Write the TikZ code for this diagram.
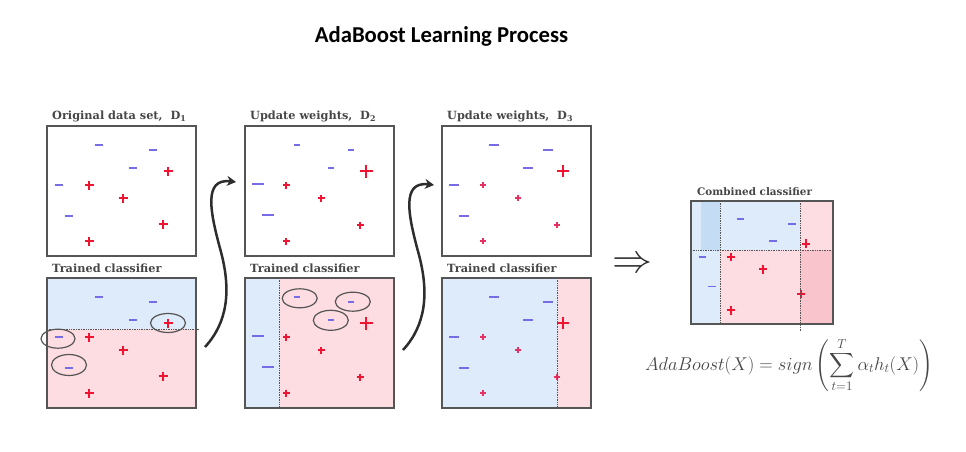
\RequirePackage{fix-cm}
\documentclass[tikz,border=0pt]{standalone}
\usepackage{fontspec}
\usepackage{amsmath}
\newfontfamily\headfont{Carlito}
\newfontfamily\panelfont{DejaVu Serif}
\usetikzlibrary{arrows.meta}

\definecolor{boxgray}{RGB}{85,85,85}
\definecolor{titlegray}{RGB}{70,70,70}
\definecolor{minusblue}{RGB}{118,108,230}
\definecolor{plusred}{RGB}{240,20,50}
\definecolor{pluspink}{RGB}{228,50,100}
\definecolor{areablue}{RGB}{221,235,250}
\definecolor{areapink}{RGB}{253,221,226}
\definecolor{deepblue}{RGB}{197,220,245}
\definecolor{deeppink}{RGB}{249,196,203}
\definecolor{arrowgray}{RGB}{45,45,45}

\begin{document}
\begin{tikzpicture}[x=1pt, y=-1pt,
    panel/.style={draw=boxgray, line width=1.2pt, minimum width=149pt, minimum height=130pt, inner sep=0pt, outer sep=0pt},
    paneltitle/.style={anchor=west, inner sep=0pt, text=titlegray, font=\panelfont\bfseries\fontsize{11.3}{13}\selectfont},
    neg/.style={draw=minusblue, line width=#1}, neg/.default=1.4pt,
    pos/.style={draw=plusred, line width=#1}, pos/.default=1.6pt,
    miss/.style={draw=boxgray, line width=1.2pt},
    split/.style={draw=boxgray, densely dotted, line width=0.7pt},
    flow/.style={draw=arrowgray, line width=2.5pt, -{Stealth[length=9pt, width=10pt]}}]
    \useasboundingbox (0,0) rectangle (966,452);

    \node[font=\headfont\bfseries\fontsize{22.7}{27}\selectfont](title) at (441.5,36) {AdaBoost Learning Process};

    % classifier areas
    \fill[areablue] (47,278) rectangle (196,329);
    \fill[areapink] (47,329) rectangle (196,408);
    \fill[areablue] (245,278) rectangle (279,408);
    \fill[areapink] (279,278) rectangle (394,408);
    \fill[areablue] (442,278) rectangle (557.5,408);
    \fill[areapink] (557.5,278) rectangle (591,408);

    \fill[areablue] (691,201) rectangle (720,324);
    \fill[deepblue] (701,201) rectangle (720,250);
    \fill[areablue] (720,201) rectangle (800,250);
    \fill[areapink] (720,250) rectangle (800,324);
    \fill[areapink] (800,201) rectangle (833,250);
    \fill[deeppink] (800,250) rectangle (833,324);

    % data points, D1
    \foreach \oy in {126,278}{
      \begin{scope}[shift={(47,\oy)}]
        \foreach \x/\y in {52/19,106/24,86/42,12/59,22/90}
          \draw[neg] (\x-4.3,\y) -- (\x+4.3,\y);
        \foreach \x/\y in {121/45,42/59,76/72,116/98,42/115}
          \draw[pos] (\x-4.5,\y) -- (\x+4.5,\y) (\x,\y-4.5) -- (\x,\y+4.5);
      \end{scope}
    }
    % data points, D2
    \foreach \oy in {126,278}{
      \begin{scope}[shift={(245,\oy)}]
        \foreach \x/\y in {52/19,106/24,86/42}
          \draw[neg=1.1pt] (\x-3.3,\y) -- (\x+3.3,\y);
        \foreach \x/\y in {13/58,23/89}
          \draw[neg=1.9pt] (\x-6,\y) -- (\x+6,\y);
        \draw[pos=2.4pt] (114.5,45) -- (127.5,45) (121,38.5) -- (121,51.5);
        \foreach \x/\y in {41/59,76/72,115/99,41/115}
          \draw[pos=1.2pt] (\x-3.5,\y) -- (\x+3.5,\y) (\x,\y-3.5) -- (\x,\y+3.5);
      \end{scope}
    }
    % data points, D3
    \foreach \oy in {126,278}{
      \begin{scope}[shift={(442,\oy)}]
        \foreach \x/\y in {52/19,106/24,86/42,12/59,22/90}
          \draw[neg=1.5pt] (\x-4.8,\y) -- (\x+4.8,\y);
        \draw[pos=2.2pt] (115,45) -- (127,45) (121,39) -- (121,51);
        \foreach \x/\y in {41/59,76/72,115/99,41/115}
          \draw[pos=1.2pt, draw=pluspink] (\x-3.3,\y) -- (\x+3.3,\y) (\x,\y-3.3) -- (\x,\y+3.3);
      \end{scope}
    }
    % data points, combined
    \begin{scope}[shift={(691,201)}, scale=0.95]
      \foreach \x/\y in {52/19,106/24,86/42,12/59,22/90}
        \draw[neg] (\x-4,\y) -- (\x+4,\y);
      \foreach \x/\y in {121/45,42/59,76/72,116/98,42/115}
        \draw[pos=2pt] (\x-4.5,\y) -- (\x+4.5,\y) (\x,\y-4.5) -- (\x,\y+4.5);
    \end{scope}

    % boxes
    \node[panel](d1) at (121.5,191) {};
    \node[panel](c1) at (121.5,343) {};
    \node[panel](d2) at (319.5,191) {};
    \node[panel](c2) at (319.5,343) {};
    \node[panel](d3) at (516.5,191) {};
    \node[panel](c3) at (516.5,343) {};
    \node[panel, minimum width=142pt, minimum height=123pt](comb) at (762,262.5) {};

    \node[paneltitle](d1 label) at (52,116) {Original data set,\ \ D\textsubscript{1}};
    \node[paneltitle](c1 label) at (52,268) {Trained classifier};
    \node[paneltitle](d2 label) at (250,116) {Update weights,\ \ D\textsubscript{2}};
    \node[paneltitle](c2 label) at (250,268) {Trained classifier};
    \node[paneltitle](d3 label) at (447,116) {Update weights,\ \ D\textsubscript{3}};
    \node[paneltitle](c3 label) at (447,268) {Trained classifier};
    \node[paneltitle, font=\panelfont\bfseries\fontsize{10.4}{12}\selectfont](comb label) at (697,192) {Combined classifier};

    % decision boundaries
    \draw[split] (c1.west |- 0,329) -- (199,329);
    \draw[split] (279,278) -- (279,408);
    \draw[split] (557.5,278) -- (557.5,408);
    \draw[split] (comb.west |- 0,250) -- (comb.east |- 0,250);
    \draw[split] (720,201) -- (720,324);
    \draw[split] (800,201) -- (800,331);

    % misclassified points
    \draw[miss] (168,323) ellipse [x radius=17.5, y radius=9.5];
    \draw[miss] (58,338.7) ellipse [x radius=17, y radius=9.5];
    \draw[miss] (69,365) ellipse [x radius=17.5, y radius=10.5];
    \draw[miss] (299.7,298.3) ellipse [x radius=17.5, y radius=9.5];
    \draw[miss] (352.8,301.7) ellipse [x radius=17.5, y radius=9.5];
    \draw[miss] (330.8,320.3) ellipse [x radius=17.5, y radius=10];

    % reweighting
    \coordinate (a1s) at (205,347);
    \coordinate (a1e) at (236,182);
    \coordinate (a2s) at (403,350);
    \coordinate (a2e) at (434,185);
    \draw[flow] (a1s) .. controls (228,322) and (231,290) .. (221,252) .. controls (210,212) and (203,178) .. (a1e);
    \draw[flow] (a2s) .. controls (426,325) and (429,293) .. (419,255) .. controls (408,215) and (401,181) .. (a2e);

    \node[text=arrowgray, font=\fontsize{40}{40}\selectfont](implies) at (632.5,265) {$\Rightarrow$};
    \node[text=titlegray, font=\fontsize{18.5}{22}\selectfont](formula) at (789,365)
      {$\displaystyle AdaBoost(X) = sign\left(\sum_{t=1}^{T}\alpha_t h_t(X)\right)$};
\end{tikzpicture}
\end{document}
